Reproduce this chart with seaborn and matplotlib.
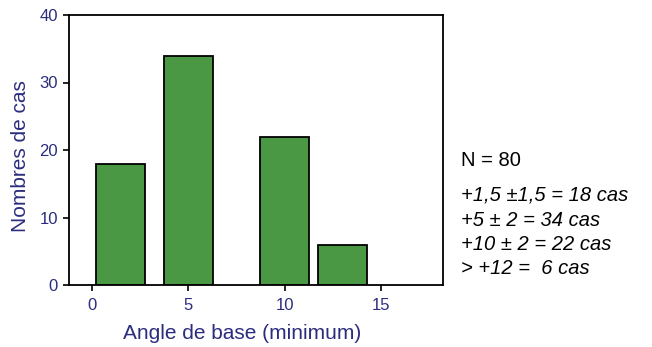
import matplotlib
matplotlib.use("Agg")
import matplotlib.pyplot as plt
import seaborn as sns
import pandas as pd

# Data
angle_centers = [1.5, 5, 10, 13]
counts = [18, 34, 22, 6]
x_ticks = [0, 5, 10, 15]
y_ticks = [0, 10, 20, 30, 40]
x_label = "Angle de base (minimum)"
y_label = "Nombres de cas"
summary_title = "N = 80"
summary_lines = ["+1,5 \u00b11,5 = 18 cas", "+5 \u00b1 2 = 34 cas", "+10 \u00b1 2 = 22 cas", "> +12 =  6 cas"]

sns.set_theme(style="white")
plt.rcParams['font.family'] = ['Liberation Sans', 'DejaVu Sans']

navy = "#2b2d7e"
green = "#4a9843"

fig = plt.figure(figsize=(6.52, 3.47), dpi=100)
ax = fig.add_axes([69/652, 1-285/347, (443-69)/652, (285-15)/347])

df = pd.DataFrame({"angle": angle_centers, "count": counts})
sns.barplot(data=df, x="angle", y="count", native_scale=True, width=0.85,
            color=green, edgecolor="black", linewidth=1.3, saturation=1, ax=ax)

ax.set_xlim(-1.19, 18.2)
ax.set_ylim(0, 40)
ax.set_xticks(x_ticks)
ax.set_yticks(y_ticks)
ax.tick_params(axis="both", direction="out", length=4, width=1.2, color="black",
               labelsize=12, labelcolor=navy, bottom=True, left=True)
ax.tick_params(axis="x", pad=5)
ax.tick_params(axis="y", pad=4)
ax.set_xlabel(x_label, fontsize=15, color=navy)
ax.set_ylabel(y_label, fontsize=15, color=navy)
ax.xaxis.set_label_coords((242.5 - 69) / 374, (285 - 324) / 270)
ax.yaxis.set_label_coords((30 - 69) / 374, (285 - 156.5) / 270)
for s in ax.spines.values():
    s.set_color("black")
    s.set_linewidth(1.3)
    s.set_visible(True)

fig.text(461/652, 1-161/347, summary_title, fontsize=14.5, color="black", va="center", ha="left")
ys = [195, 220, 245, 268]
for line, y in zip(summary_lines, ys):
    fig.text(461/652, 1-y/347, line, fontsize=14.5, style="italic", color="black", va="center", ha="left")

fig.savefig("out.png", dpi=100)
